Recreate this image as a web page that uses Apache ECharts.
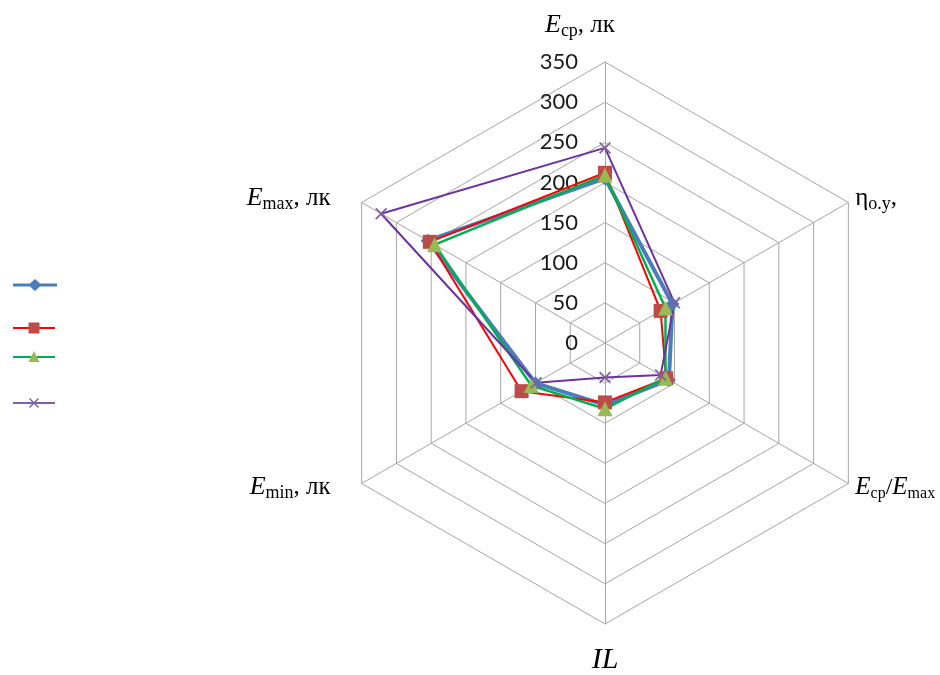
<!DOCTYPE html>
<html>
<head>
<meta charset="utf-8">
<script src="https://cdn.jsdelivr.net/npm/echarts@6/dist/echarts.min.js"></script>
<style>html,body{margin:0;padding:0;background:#fff}#c{width:940px;height:675px}</style>
</head>
<body>
<div id="c"></div>
<script>
// Indicators in ECharts order (counter-clockwise from top)
var indicatorNames = ['Eср, лк', 'Emax, лк', 'Emin, лк', 'IL', 'Eср/Emax', 'ηо.у,'];
var axisMax = 350;
var tickLabels = ['0', '50', '100', '150', '200', '250', '300', '350'];

var series1 = [205, 255, 100, 77, 92, 97];   // blue diamonds
var series2 = [212, 252, 120, 74, 88, 80];   // red squares
var series3 = [209, 245, 106, 82, 87, 87];   // green triangles
var series4 = [243, 322, 99, 43, 80, 100];   // purple crosses

var seriesNames = [' ', '  ', '   ', '    '];

var richNames = {
  'Eср, лк': '{eT|E}{sT|ср}{tT|, лк}',
  'Emax, лк': '{e|E}{s|max}{tR|, лк}',
  'Emin, лк': '{e|E}{s|min}{tR|, лк}',
  'IL': '{il|IL}',
  'Eср/Emax': '{e2|E}{s2|ср}{t2|/}{e2|E}{s2|max}',
  'ηо.у,': '{t|η}{s|о.у}{t|,}'
};

var serif = '"Liberation Serif", "DejaVu Serif", serif';
var xPath = 'path://M0,1L1,0L5,4L9,0L10,1L6,5L10,9L9,10L5,6L1,10L0,9L4,5Z';
var bluePath = 'path://M0,4.5L17,4.5L22,0L27,4.5L44,4.5L44,7.5L27,7.5L22,12L17,7.5L0,7.5Z';

var chart = echarts.init(document.getElementById('c'), null, {renderer: 'canvas'});

var indicators = indicatorNames.map(function (n, i) {
  var o = {name: n, max: axisMax, min: 0};
  if (i === 0) {
    o.axisLabel = {
      show: true,
      fontFamily: 'Lato, "Open Sans", sans-serif',
      fontSize: 22,
      color: '#1a1a1a',
      margin: 27,
      formatter: function (v) { return tickLabels[Math.round(v / 50)]; }
    };
  }
  return o;
});

function legendItem(name, icon, color, left, top, w, h) {
  return {
    data: [{name: name, icon: icon, itemStyle: {color: color}}],
    left: left,
    top: top,
    padding: 0,
    itemWidth: w,
    itemHeight: h,
    itemGap: 0,
    textStyle: {fontSize: 1, lineHeight: 1, color: 'rgba(0,0,0,0)'},
    selectedMode: false
  };
}

function rs(o) { o.fontFamily = serif; o.color = '#000'; return o; }

chart.setOption({
  animation: false,
  backgroundColor: '#ffffff',
  legend: [
    legendItem(seriesNames[0], bluePath, '#4a7ebb', 13, 279, 44, 12),
    legendItem(seriesNames[1], 'rect', '#ff0000', 13, 327, 42, 2),
    legendItem(seriesNames[1], 'rect', '#be4b48', 28.5, 322.5, 11, 11),
    legendItem(seriesNames[2], 'rect', '#00b050', 13, 356, 42, 2),
    legendItem(seriesNames[2], 'triangle', '#98b954', 28.5, 351, 11, 11),
    legendItem(seriesNames[3], 'rect', '#7f5fa8', 13, 402, 42, 2),
    legendItem(seriesNames[3], xPath, '#7d60a0', 29, 398, 10, 10)
  ],
  radar: {
    center: [605, 343],
    radius: 281,
    shape: 'polygon',
    splitNumber: 7,
    startAngle: 90,
    indicator: indicators,
    nameGap: 8,
    axisName: {
      color: '#000',
      fontFamily: serif,
      formatter: function (n) { return richNames[n] || n; },
      rich: {
        e: rs({fontStyle: 'italic', fontSize: 26, lineHeight: 32}),
        s: rs({fontSize: 18, lineHeight: 18, padding: [12, 0, 0, 0]}),
        t: rs({fontSize: 25, lineHeight: 32}),
        tR: rs({fontSize: 25, lineHeight: 32, padding: [0, 24, 0, 0]}),
        eT: rs({fontStyle: 'italic', fontSize: 26, lineHeight: 32, padding: [0, 0, 11, 0]}),
        sT: rs({fontSize: 18, lineHeight: 18, padding: [12, 0, 11, 0]}),
        tT: rs({fontSize: 25, lineHeight: 32, padding: [0, 50, 11, 0]}),
        e2: rs({fontStyle: 'italic', fontSize: 25, lineHeight: 32}),
        s2: rs({fontSize: 16, lineHeight: 16, padding: [12, 0, 0, 0]}),
        t2: rs({fontSize: 24, lineHeight: 32}),
        il: rs({fontStyle: 'italic', fontSize: 30, lineHeight: 34, padding: [22, 0, 0, 0]})
      }
    },
    axisLabel: {show: false},
    axisTick: {show: false},
    axisLine: {lineStyle: {color: '#a6a6a6', width: 1}},
    splitLine: {lineStyle: {color: '#a6a6a6', width: 1}},
    splitArea: {show: false}
  },
  series: [{
    type: 'radar',
    data: [
      {
        name: seriesNames[0], value: series1,
        symbol: 'diamond', symbolSize: 14,
        lineStyle: {color: '#4a7ebb', width: 4},
        itemStyle: {color: '#4a7ebb'}
      },
      {
        name: seriesNames[1], value: series2,
        symbol: 'rect', symbolSize: 14,
        lineStyle: {color: '#ff0000', width: 2},
        itemStyle: {color: '#be4b48'}
      },
      {
        name: seriesNames[2], value: series3,
        symbol: 'triangle', symbolSize: 15,
        lineStyle: {color: '#00b050', width: 2.5},
        itemStyle: {color: '#98b954'}
      },
      {
        name: seriesNames[3], value: series4,
        symbol: xPath, symbolSize: 12,
        lineStyle: {color: '#7030a0', width: 2},
        itemStyle: {color: '#7d60a0'}
      }
    ]
  }]
});
</script>
</body>
</html>
